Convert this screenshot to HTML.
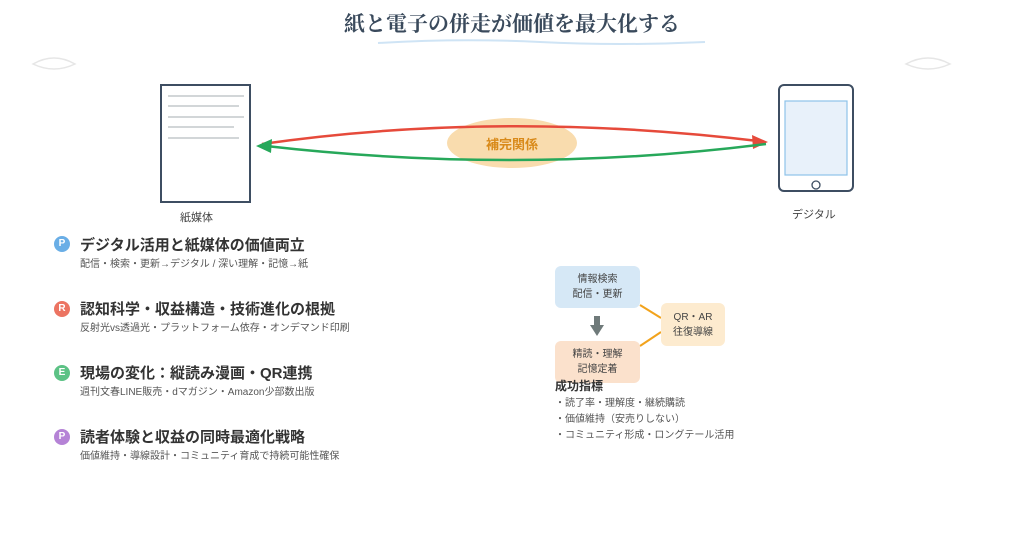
<!DOCTYPE html>
<html><head><meta charset="utf-8"><style>
body{margin:0;width:1024px;height:533px;background:#fff;position:relative;overflow:hidden;font-family:"Liberation Sans","Noto Sans CJK JP",sans-serif;color:#333}
.a{position:absolute;white-space:nowrap}
.h{font-size:15px;font-weight:bold;color:#333}
.s{font-size:10px;color:#555}
.c{position:absolute;width:16px;height:16px;border-radius:50%;color:#fff;font-size:10px;font-weight:bold;text-align:center;line-height:16px}
.box{position:absolute;border-radius:6px;font-size:10px;color:#444;text-align:center;display:flex;align-items:center;justify-content:center;line-height:15px}
</style></head><body>
<div class="a" style="left:0;width:1024px;top:8px;text-align:center;font-family:'Liberation Serif','Noto Serif CJK SC',serif;font-size:21px;font-weight:bold;color:#3a4a5c">紙と電子の併走が価値を最大化する</div>
<svg class="a" style="left:0;top:0" width="1024" height="533">
<path d="M378 43 Q460 38 540 42 T705 42" stroke="#cfe4f5" stroke-width="2" fill="none"/>
<path d="M33 64 Q54 52 75 64 Q54 74 33 64Z" fill="none" stroke="#e6e6e6" stroke-width="1.5"/>
<path d="M906 64 Q928 52 950 64 Q928 74 906 64Z" fill="none" stroke="#e6e6e6" stroke-width="1.5"/>
<rect x="161" y="85" width="89" height="117" fill="#fff" stroke="#3e4e62" stroke-width="2"/>
<g stroke="#c3c9cc" stroke-width="1.5"><line x1="168" y1="96" x2="244" y2="96"/><line x1="168" y1="106" x2="239" y2="106"/><line x1="168" y1="117" x2="244" y2="117"/><line x1="168" y1="127" x2="234" y2="127"/><line x1="168" y1="138" x2="239" y2="138"/></g>
<rect x="779" y="85" width="74" height="106" rx="5" fill="#fff" stroke="#3e4e62" stroke-width="2"/>
<rect x="785" y="101" width="62" height="74" fill="#e8f1fa" stroke="#8ec3ea" stroke-width="1.2"/>
<circle cx="816" cy="185" r="4" fill="none" stroke="#3e4e62" stroke-width="1.3"/>
<ellipse cx="512" cy="143" rx="65" ry="25" fill="#f9dcae"/>
<path d="M262 144 Q500 110 758 141" stroke="#e64a3b" stroke-width="2.5" fill="none"/>
<polygon points="768,142 752,135 753,149" fill="#e64a3b"/>
<path d="M766 144 Q520 175 266 146" stroke="#27a85a" stroke-width="2.5" fill="none"/>
<polygon points="256,146 272,139 271,153" fill="#27a85a"/>
<line x1="640" y1="305" x2="661" y2="318" stroke="#f2a31c" stroke-width="2"/>
<line x1="640" y1="346" x2="661" y2="332" stroke="#f2a31c" stroke-width="2"/>
<rect x="594" y="316" width="6" height="10" fill="#6f7a7a"/>
<polygon points="590,325 604,325 597,336" fill="#6f7a7a"/>
</svg>
<div class="a" style="left:180px;top:209px;font-size:11px;color:#444">紙媒体</div>
<div class="a" style="left:792px;top:206px;font-size:11px;color:#444">デジタル</div>
<div class="a" style="left:480px;top:134px;width:64px;text-align:center;font-size:13px;font-weight:bold;color:#d98a1a">補完関係</div>

<div class="c" style="left:54px;top:236px;background:#6aaee6">P</div>
<div class="a h" style="left:80px;top:234px">デジタル活用と紙媒体の価値両立</div>
<div class="a s" style="left:80px;top:255px">配信・検索・更新→デジタル / 深い理解・記憶→紙</div>
<div class="c" style="left:54px;top:301px;background:#ec7462">R</div>
<div class="a h" style="left:80px;top:298px">認知科学・収益構造・技術進化の根拠</div>
<div class="a s" style="left:80px;top:319px">反射光vs透過光・プラットフォーム依存・オンデマンド印刷</div>
<div class="c" style="left:54px;top:365px;background:#5cc285">E</div>
<div class="a h" style="left:80px;top:362px">現場の変化：縦読み漫画・QR連携</div>
<div class="a s" style="left:80px;top:383px">週刊文春LINE販売・dマガジン・Amazon少部数出版</div>
<div class="c" style="left:54px;top:429px;background:#b583d6">P</div>
<div class="a h" style="left:80px;top:426px">読者体験と収益の同時最適化戦略</div>
<div class="a s" style="left:80px;top:447px">価値維持・導線設計・コミュニティ育成で持続可能性確保</div>

<div class="box" style="left:555px;top:266px;width:85px;height:42px;background:#d6e8f6">情報検索<br>配信・更新</div>
<div class="box" style="left:555px;top:341px;width:85px;height:42px;background:#fbe1cc">精読・理解<br>記憶定着</div>
<div class="box" style="left:661px;top:303px;width:64px;height:43px;background:#fdebcf">QR・AR<br>往復導線</div>
<div class="a" style="left:555px;top:377px;font-size:12px;font-weight:bold;color:#333">成功指標</div>
<div class="a s" style="left:555px;top:396px;line-height:16px">・読了率・理解度・継続購読<br>・価値維持（安売りしない）<br>・コミュニティ形成・ロングテール活用</div>
</body></html>
